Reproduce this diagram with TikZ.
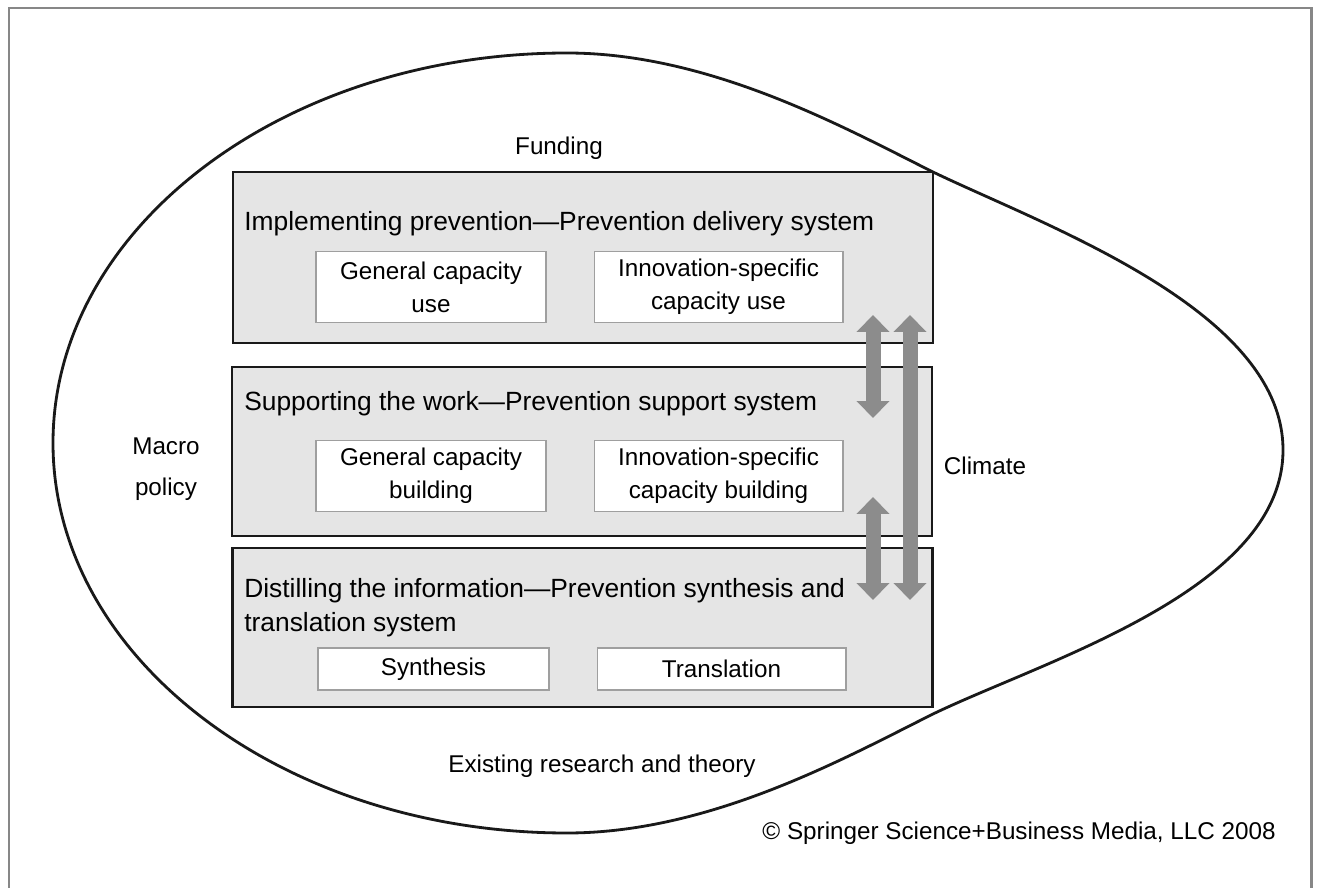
\documentclass[tikz,border=0pt]{standalone}
\usepackage{fontspec}
\setmainfont{Liberation Sans}
\usetikzlibrary{arrows.meta}
\usetikzlibrary{positioning}
\definecolor{layergray}{gray}{0.9}
\definecolor{arrowgray}{gray}{0.55}
\definecolor{framegray}{gray}{0.53}

\begin{document}
\begin{tikzpicture}[x=0.02cm,y=-0.02cm,
	layer/.style={draw=black!90,line width=1.6pt,fill=layergray,minimum width=14cm,inner sep=0pt},
	part/.style={draw=gray!75,line width=0.6pt,fill=white,align=center,inner sep=0pt,font=\fontsize{13.8}{18.9}\selectfont},
	heading/.style={anchor=base west,align=left,inner sep=0pt,font=\fontsize{15}{19.3}\selectfont},
	note/.style={align=center,inner sep=0pt,font=\fontsize{13.8}{16}\selectfont},
	link/.style={arrowgray,line width=0.3cm,{Triangle[length=0.34cm,width=0.64cm]}-{Triangle[length=0.34cm,width=0.64cm]}}]

	\useasboundingbox (0,0) rectangle (1319,888);

	% frame, open at the bottom
	\draw[framegray,line width=1.7pt] (9,888) -- (9,8) -- (1311,8) -- (1311,888);

	% outer oval, fuller on the left
	\draw[black!90,line width=1.6pt] (567,53) .. controls (283,53) and (53,228) .. (53,443)
		.. controls (53,658) and (283,833) .. (567,833)
		.. controls (710,833) and (845,758) .. (933,714)
		.. controls (1045,660) and (1283,590) .. (1283,450)
		.. controls (1283,310) and (1045,226) .. (933,172)
		.. controls (845,128) and (710,53) .. (567,53) -- cycle;

	% the three systems
	\node[layer,minimum height=3.42cm] (impl) at (583,257.5) {};
	\node[layer,minimum height=3.38cm] (supp) at (582,451.5) {};
	\node[layer,minimum height=3.18cm] (dist) at (582.5,627.5) {};

	\node[heading] (implT) at (244,231) {Implementing prevention—Prevention delivery system};
	\node[heading] (suppT) at (244,411) {Supporting the work—Prevention support system};
	\node[heading] (distT) at (244,631) {Distilling the information—Prevention synthesis and\\translation system};

	\node[part,minimum width=4.6cm,minimum height=1.42cm] (genUse) at (431,287) {General capacity\\use};
	\node[part,minimum width=4.98cm,minimum height=1.42cm] (innUse) [right=0.94cm of genUse] {Innovation-specific\\capacity use};
	\node[part,minimum width=4.6cm,minimum height=1.42cm] (genBuild) at (431,476) {General capacity\\building};
	\node[part,minimum width=4.98cm,minimum height=1.42cm] (innBuild) [right=0.94cm of genBuild] {Innovation-specific\\capacity building};
	\node[part,minimum width=4.62cm,minimum height=0.84cm] (synth) at (433.5,669) {Synthesis};
	\node[part,minimum width=4.98cm,minimum height=0.84cm] (transl) [right=0.94cm of synth] {Translation};

	% context labels
	\node[note] (funding) at (559,148) {Funding};
	\node[note,font=\fontsize{13.8}{23.5}\selectfont] (macro) at (166,469) {Macro\\policy};
	\node[note] (climate) at (985,466) {Climate};
	\node[note] (research) at (602,766) {Existing research and theory};
	\node[note,anchor=east] (springer) at (1276,833) {© Springer Science+Business Media, LLC 2008};

	% exchanges between the systems
	\coordinate (upA) at (873,315);
	\coordinate (dnA) at (873,418);
	\coordinate (upB) at (910,315);
	\coordinate (dnB) at (910,600);
	\coordinate (upC) at (873,497);
	\coordinate (dnC) at (873,600);
	\draw[link] (upA) -- (dnA);
	\draw[link] (upB) -- (dnB);
	\draw[link] (upC) -- (dnC);

\end{tikzpicture}
\end{document}
